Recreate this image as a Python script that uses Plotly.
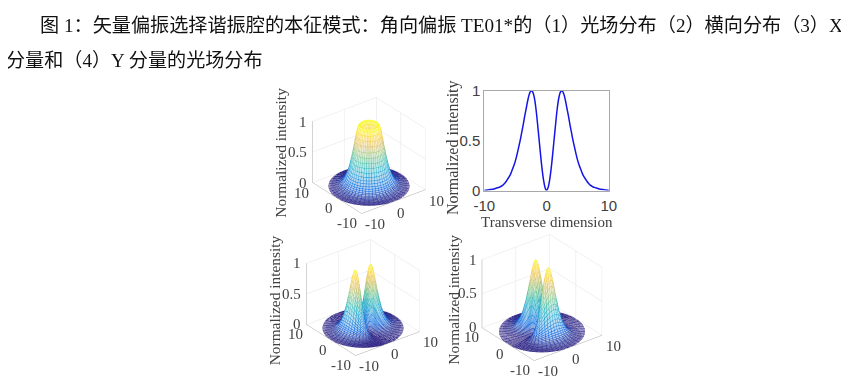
import numpy as np
import plotly.graph_objects as go

W, H = 849, 384
LINE_1 = "图 1：矢量偏振选择谐振腔的本征模式：角向偏振 TE01*的（1）光场分布（2）横向分布（3）X"
LINE_2 = "分量和（4）Y 分量的光场分布"
Y_TITLE = "Normalized intensity"
X_TITLE = "Transverse dimension"

radius = [0, .25, .5, .75, 1, 1.25, 1.5, 1.75, 2, 2.25, 2.5, 2.75, 3, 3.25, 3.5, 3.75, 4, 4.25, 4.5, 4.75,
          5, 5.25, 5.5, 5.75, 6, 6.25, 6.5, 6.75, 7, 7.25, 7.5, 7.75, 8, 8.25, 8.5, 8.75, 9, 9.25, 9.5, 9.75, 10]
intensity = [0, .03, .11, .23, .38, .54, .70, .84, .94, .99, 1, .97, .91, .83, .75, .66, .58, .50, .43, .36,
             .30, .25, .21, .17, .14, .115, .09, .07, .055, .045, .035, .03, .025, .02, .015, .012, .01, .008, .005, .003, .002]
# share of the ring's intensity in the X component, every 7.5 degrees over one quadrant
x_share_quadrant = [1, .98, .93, .85, .75, .63, .5, .37, .25, .15, .07, .02, 0]
tick_vals = [-10, 0, 10]
tick_text = ["-10", "0", "10"]
z_ticks = [0, 0.5, 1]
z_text = ["0", "0.5", "1"]

parula = [[0, "#352a87"], [.125, "#0363e1"], [.25, "#1485d4"], [.375, "#06a7c6"], [.5, "#38b99e"],
          [.625, "#92bf73"], [.75, "#d9ba56"], [.875, "#fcce2e"], [1, "#f9fb0e"]]
INK = "#404040"
SERIF = "Liberation Serif, Noto Sans CJK SC"
SANS = "Liberation Sans, Arial"
# where the plot area falls in the browser window
AREA_L, AREA_T, AREA_W, AREA_H = 16, 16, 833, 368


def pale(hex_colour, keep=0.3):
    rgb = [int(hex_colour[i:i + 2], 16) for i in (1, 3, 5)]
    return "rgb(%d,%d,%d)" % tuple(round(255 - (255 - c) * keep) for c in rgb)


pale_parula = [[s, pale(c)] for s, c in parula]

r = np.array(radius)
i0 = np.array(intensity)
q = list(x_share_quadrant)
x_share = np.array(q[:-1] + q[::-1][:-1] + q[:-1] + q[::-1][:-1] + [q[0]])
theta = np.deg2rad(np.arange(len(x_share)) * 7.5)
Rg, Tg = np.meshgrid(r, theta)
Xg, Yg = Rg * np.cos(Tg), Rg * np.sin(Tg)
base = np.tile(i0, (len(theta), 1))
fields = [base, base * x_share[:, None], base * (1 - x_share)[:, None]]

fig = go.Figure()
fig.add_trace(go.Scatter(x=[-v for v in radius[:0:-1]] + radius, y=intensity[:0:-1] + intensity, mode="lines",
                         line=dict(color="#1414e6", width=1.5, shape="spline"), showlegend=False, xaxis="x", yaxis="y"))


def fx(a):
    return (a - AREA_L) / AREA_W


def fy(b):
    return 1 - (b - AREA_T) / AREA_H


def tick_notes():
    notes = []
    note = dict(showarrow=False, font=dict(family=SERIF, size=15, color=INK))
    for v, t in zip(z_ticks, z_text):
        notes.append(dict(note, x=-10, y=10, z=v, text=t, xanchor="right", yanchor="middle", xshift=-3))
    for v, t, sh in zip(tick_vals[::-1], tick_text[::-1], ((-11, -10), (-8, -10), (-14, -10))):
        notes.append(dict(note, x=-10, y=v, z=0, text=t, xanchor="center", yanchor="middle", xshift=sh[0], yshift=sh[1]))
    for v, t, sh in zip(tick_vals, tick_text, ((14, -11), (8, -11), (11, -11))):
        notes.append(dict(note, x=v, y=-10, z=0, text=t, xanchor="center", yanchor="middle", xshift=sh[0], yshift=sh[1]))
    return notes


scenes = [("scene", fields[0], (367, 155), (165, 161), 0.87),
          ("scene2", fields[1], (361, 297), (165, 161), 0.87),
          ("scene3", fields[2], (541, 297), (175, 171), 0.91)]
layout_scenes = {}
for name, Z, centre, size, zratio in scenes:
    fig.add_trace(go.Surface(x=Xg, y=Yg, z=Z - 0.004, scene=name, showscale=False, hoverinfo="skip",
                             colorscale=pale_parula, cmin=0, cmax=1,
                             lighting=dict(ambient=1, diffuse=0, specular=0, fresnel=0)))
    lx, ly, lz = [], [], []
    for row in range(0, Xg.shape[0]):
        lx += list(Xg[row]) + [None]; ly += list(Yg[row]) + [None]; lz += list(Z[row]) + [None]
    for col in range(1, Xg.shape[1]):
        lx += list(Xg[:, col]) + [None]; ly += list(Yg[:, col]) + [None]; lz += list(Z[:, col]) + [None]
    colors = [0 if v is None else v for v in lz]
    fig.add_trace(go.Scatter3d(x=lx, y=ly, z=lz, mode="lines", scene=name, showlegend=False, hoverinfo="skip",
                               line=dict(color=colors, colorscale=parula, cmin=0, cmax=1, width=1)))
    ax = dict(tickvals=tick_vals, range=[-10, 10], title=dict(text=""), showbackground=False, showgrid=True,
              gridcolor="#e4e4e4", gridwidth=1, zeroline=False, showline=True, linecolor="#a8a8a8", linewidth=1,
              showticklabels=False, ticks="", showspikes=False)
    axz = dict(ax, tickvals=z_ticks, range=[0, 1])
    layout_scenes[name] = dict(
        domain=dict(x=[fx(centre[0] - size[0] / 2), fx(centre[0] + size[0] / 2)],
                    y=[fy(centre[1] + size[1] / 2), fy(centre[1] - size[1] / 2)]),
        xaxis=ax, yaxis=ax, zaxis=axz,
        aspectmode="manual", aspectratio=dict(x=1, y=1, z=zratio),
        camera=dict(projection=dict(type="orthographic"), eye=dict(x=-1.1, y=-1.43, z=1.0),
                    center=dict(x=0, y=0, z=0), up=dict(x=0, y=0, z=1)),
        annotations=tick_notes(), bgcolor="rgba(0,0,0,0)")
fig.update_layout(**layout_scenes)

frame = dict(showline=True, mirror=True, linecolor="#a8a8a8", linewidth=1, showgrid=False, zeroline=False,
             ticks="", tickfont=dict(family=SANS, size=15, color=INK))
fig.update_layout(
    width=W, height=H, margin=dict(l=0, r=0, t=0, b=0), paper_bgcolor="white", plot_bgcolor="white", showlegend=False,
    xaxis=dict(frame, domain=[fx(483), fx(608)], range=[-10, 10], tickvals=tick_vals, ticktext=tick_text, anchor="y",
               ticklabelstandoff=1),
    yaxis=dict(frame, domain=[fy(190), fy(90)], range=[0, 1], tickvals=z_ticks, ticktext=z_text, anchor="x"),
)


def text(x, y, s, size=16.0, angle=0, xanchor="center", colour=INK):
    fig.add_annotation(x=fx(x), y=fy(y), xref="paper", yref="paper", text=s, showarrow=False,
                       textangle=angle, xanchor=xanchor, yanchor="middle",
                       font=dict(family=SERIF, size=size, color=colour))


text(35, 25, LINE_1, size=19.15, xanchor="left", colour="#111111")
text(1, 60, LINE_2, size=19.1, xanchor="left", colour="#111111")
text(279, 152, Y_TITLE, size=15.4, angle=-90)
text(451, 147, Y_TITLE, size=16, angle=-90)
text(272, 300, Y_TITLE, size=15.4, angle=-90)
text(452, 299, Y_TITLE, size=15.4, angle=-90)
text(546, 222, X_TITLE, size=15)

fig.write_html("out.html")
